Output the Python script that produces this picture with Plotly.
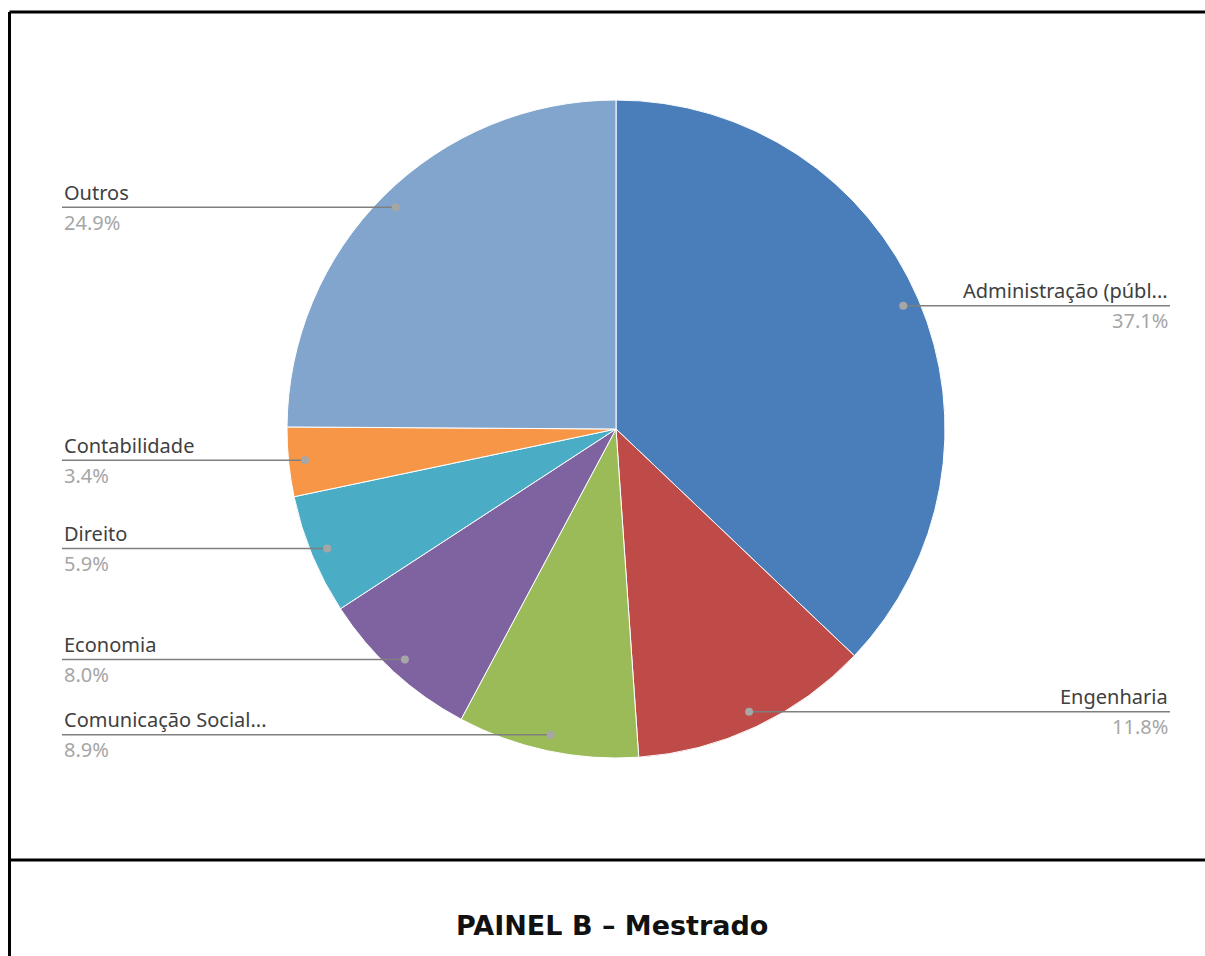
import math
import plotly.graph_objects as go

# Área de formação dos mestres (percentual)
categorias = ["Administração (públ...", "Engenharia", "Comunicação Social...",
              "Economia", "Direito", "Contabilidade", "Outros"]
percentuais = [37.1, 11.8, 8.9, 8.0, 5.9, 3.4, 24.9]
cores = ["#4A7EBB", "#BE4B48", "#9BBB59", "#7F63A0", "#4BACC6", "#F79646", "#82A5CD"]
titulo = "PAINEL B – Mestrado"

W, H = 1205, 956
cx, cy, r = 616, 429, 329          # pie centre / radius in pixels
left_x, right_x = 62, 1170          # label column edges

fig = go.Figure()

fig.add_trace(go.Pie(
    labels=categorias, values=percentuais, sort=False, direction="clockwise",
    rotation=0, marker=dict(colors=cores, line=dict(color="white", width=1)),
    textinfo="none", hoverinfo="label+percent", showlegend=False,
    domain=dict(x=[(cx - r) / W, (cx + r) / W], y=[(H - cy - r) / H, (H - cy + r) / H]),
))

# leader lines, anchor dots and labels computed from slice mid-angles
total = sum(percentuais)
acum = 0.0
shapes = []
annotations = []
for nome, v in zip(categorias, percentuais):
    mid = (acum + v / 2) / total * 2 * math.pi
    acum += v
    dx = cx + 0.95 * r * math.sin(mid)
    dy = cy - 0.95 * r * math.cos(mid)
    right = math.sin(mid) > 0
    end_x = right_x if right else left_x
    shapes.append(dict(type="line", xref="x", yref="y", x0=dx, y0=dy, x1=end_x, y1=dy,
                       line=dict(color="#7F7F7F", width=1.5), layer="above"))
    shapes.append(dict(type="circle", xref="x", yref="y", x0=dx - 4, y0=dy - 4,
                       x1=dx + 4, y1=dy + 4, fillcolor="#A6A6A6",
                       line=dict(width=0), layer="above"))
    anchor = "right" if right else "left"
    annotations.append(dict(x=end_x, y=dy - 15, xref="x", yref="y", text=nome,
                            showarrow=False, xanchor=anchor, yanchor="middle",
                            font=dict(family="Noto Sans", size=20, color="#404040")))
    annotations.append(dict(x=end_x, y=dy + 15, xref="x", yref="y", text=f"{v:.1f}%",
                            showarrow=False, xanchor=anchor, yanchor="middle",
                            font=dict(family="Noto Sans", size=20, color="#A6A6A6")))

# frame: top and left borders, divider above the panel title
frame = dict(color="black", width=3)
shapes += [
    dict(type="line", xref="x", yref="y", x0=9.5, y0=12, x1=W, y1=12, line=frame),
    dict(type="line", xref="x", yref="y", x0=9.5, y0=12, x1=9.5, y1=H, line=frame),
    dict(type="line", xref="x", yref="y", x0=9.5, y0=860, x1=W, y1=860, line=frame),
]
annotations.append(dict(x=612, y=925, xref="x", yref="y", text=f"<b>{titulo}</b>",
                        showarrow=False, xanchor="center", yanchor="middle",
                        font=dict(family="DejaVu Sans", size=27, color="#111111")))

fig.update_layout(
    width=W, height=H, margin=dict(l=0, r=0, t=0, b=0),
    paper_bgcolor="white", plot_bgcolor="rgba(0,0,0,0)",
    xaxis=dict(range=[0, W], visible=False, fixedrange=True, domain=[0, 1]),
    yaxis=dict(range=[H, 0], visible=False, fixedrange=True, domain=[0, 1]),
    shapes=shapes, annotations=annotations,
)

fig.write_html("out.html")
